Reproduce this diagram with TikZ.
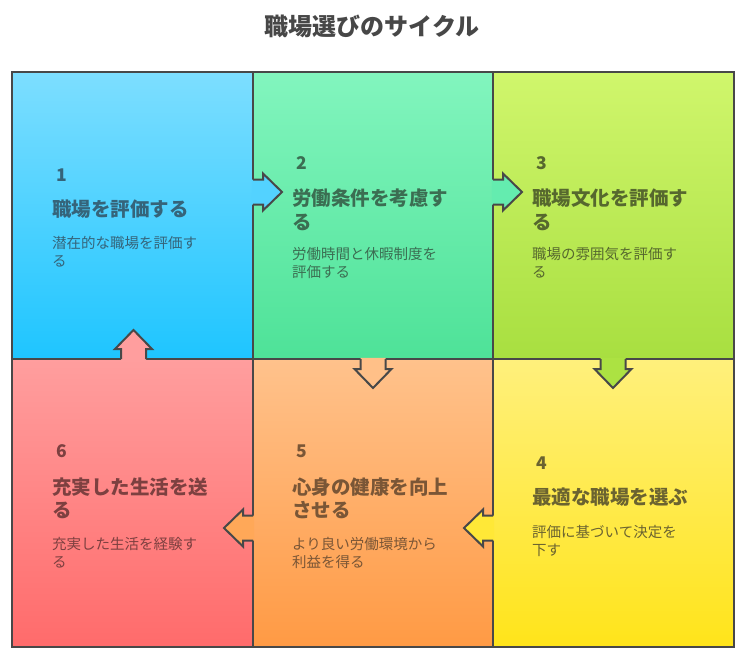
\documentclass[tikz,border=0pt]{standalone}
\usepackage{fontspec}
\setmainfont{Noto Sans CJK JP}
\usetikzlibrary{shadings}
\definecolor{bordercol}{HTML}{484848}
\definecolor{titlecol}{HTML}{474747}
\definecolor{p1t}{HTML}{7DDEFF}\definecolor{p1b}{HTML}{1EC5FF}
\definecolor{p2t}{HTML}{82F5BE}\definecolor{p2b}{HTML}{4EE298}
\definecolor{p3t}{HTML}{D0F66C}\definecolor{p3b}{HTML}{A8DF40}
\definecolor{p4t}{HTML}{FFF07C}\definecolor{p4b}{HTML}{FFE41A}
\definecolor{p5t}{HTML}{FFC28C}\definecolor{p5b}{HTML}{FF9A44}
\definecolor{p6t}{HTML}{FF9E9E}\definecolor{p6b}{HTML}{FF6B6B}
\definecolor{c1}{HTML}{35647A}
\definecolor{c2}{HTML}{3B6E52}
\definecolor{c3}{HTML}{56682E}
\definecolor{c4}{HTML}{6B6330}
\definecolor{c5}{HTML}{7A5636}
\definecolor{c6}{HTML}{7D4040}
\definecolor{a12}{HTML}{53D2FF}
\definecolor{a23}{HTML}{64ECAF}
\definecolor{a34}{HTML}{ACE242}
\definecolor{a25}{HTML}{FFC088}
\definecolor{a45}{HTML}{FFE837}
\definecolor{a56}{HTML}{FFA858}
\definecolor{a61}{HTML}{FF9E9E}
\tikzset{
  panelline/.style={draw=bordercol, line width=2pt},
  numtext/.style={anchor=base west, inner sep=0pt, font=\fontsize{17.5}{18}\selectfont\bfseries},
  titletext/.style={anchor=base west, inner sep=0pt, font=\fontsize{19.5}{20}\selectfont\bfseries},
  desctext/.style={anchor=base west, inner sep=0pt, font=\fontsize{14.5}{15}\selectfont},
  pics/flowarrow/.style={code={
    \fill[#1] (-1.2,-12.5) -- (10,-12.5) -- (10,-18.5) -- (29,0) -- (10,18.5) -- (10,12.5) -- (-1.2,12.5) -- cycle;
    \draw[panelline] (0,-12.5) -- (10,-12.5) -- (10,-18.5) -- (29,0) -- (10,18.5) -- (10,12.5) -- (0,12.5);
  }}
}
\begin{document}
\begin{tikzpicture}[x=1pt,y=-1pt]
\useasboundingbox (0,0) rectangle (747,661);
\fill[white] (0,0) rectangle (747,661);
% title
\node[anchor=base, inner sep=0pt, text=titlecol, font=\fontsize{24}{24}\selectfont\bfseries] (title) at (372,36) {職場選びのサイクル};
% panels
\fill[top color=p1t, bottom color=p1b] (12,72) rectangle (253,359);
\fill[top color=p2t, bottom color=p2b] (253,72) rectangle (493,359);
\fill[top color=p3t, bottom color=p3b] (493,72) rectangle (734,359);
\fill[top color=p6t, bottom color=p6b] (12,359) rectangle (253,647);
\fill[top color=p5t, bottom color=p5b] (253,359) rectangle (493,647);
\fill[top color=p4t, bottom color=p4b] (493,359) rectangle (734,647);
\draw[panelline] (12,72) rectangle (734,647);
\draw[panelline] (253,72) -- (253,647);
\draw[panelline] (493,72) -- (493,647);
\draw[panelline] (12,359) -- (734,359);
% arrows
\pic at (253,192) {flowarrow=a12};
\pic at (493,192) {flowarrow=a23};
\pic[rotate=-90] at (613,359) {flowarrow=a34};
\pic[rotate=-90] at (373,359) {flowarrow=a25};
\pic[rotate=180] at (493,528) {flowarrow=a45};
\pic[rotate=180] at (253,528) {flowarrow=a56};
\pic[rotate=90] at (133.5,359) {flowarrow=a61};
% panel 1
\node[numtext, text=c1] (n1) at (56,181.5) {1};
\node[titletext, text=c1] (t1) at (52,216) {職場を評価する};
\node[desctext, text=c1] (d1a) at (52,248) {潜在的な職場を評価す};
\node[desctext, text=c1] (d1b) at (52,266) {る};
% panel 2
\node[numtext, text=c2] (n2) at (296,169.5) {2};
\node[titletext, text=c2] (t2a) at (292,205) {労働条件を考慮す};
\node[titletext, text=c2] (t2b) at (292,229.5) {る};
\node[desctext, text=c2] (d2a) at (292,259) {労働時間と休暇制度を};
\node[desctext, text=c2] (d2b) at (292,277) {評価する};
% panel 3
\node[numtext, text=c3] (n3) at (536,169.5) {3};
\node[titletext, text=c3] (t3a) at (532,205) {職場文化を評価す};
\node[titletext, text=c3] (t3b) at (532,229.5) {る};
\node[desctext, text=c3] (d3a) at (532,259) {職場の雰囲気を評価す};
\node[desctext, text=c3] (d3b) at (532,277) {る};
% panel 4
\node[numtext, text=c4] (n4) at (536,469.5) {4};
\node[titletext, text=c4] (t4) at (532,504.5) {最適な職場を選ぶ};
\node[desctext, text=c4] (d4a) at (532,537) {評価に基づいて決定を};
\node[desctext, text=c4] (d4b) at (532,555) {下す};
% panel 5
\node[numtext, text=c5] (n5) at (296,457.5) {5};
\node[titletext, text=c5] (t5a) at (292,494) {心身の健康を向上};
\node[titletext, text=c5] (t5b) at (292,517.5) {させる};
\node[desctext, text=c5] (d5a) at (292,549) {より良い労働環境から};
\node[desctext, text=c5] (d5b) at (292,567) {利益を得る};
% panel 6
\node[numtext, text=c6] (n6) at (56,457.5) {6};
\node[titletext, text=c6] (t6a) at (52,494) {充実した生活を送};
\node[titletext, text=c6] (t6b) at (52,517.5) {る};
\node[desctext, text=c6] (d6a) at (52,549) {充実した生活を経験す};
\node[desctext, text=c6] (d6b) at (52,567) {る};
\end{tikzpicture}
\end{document}
